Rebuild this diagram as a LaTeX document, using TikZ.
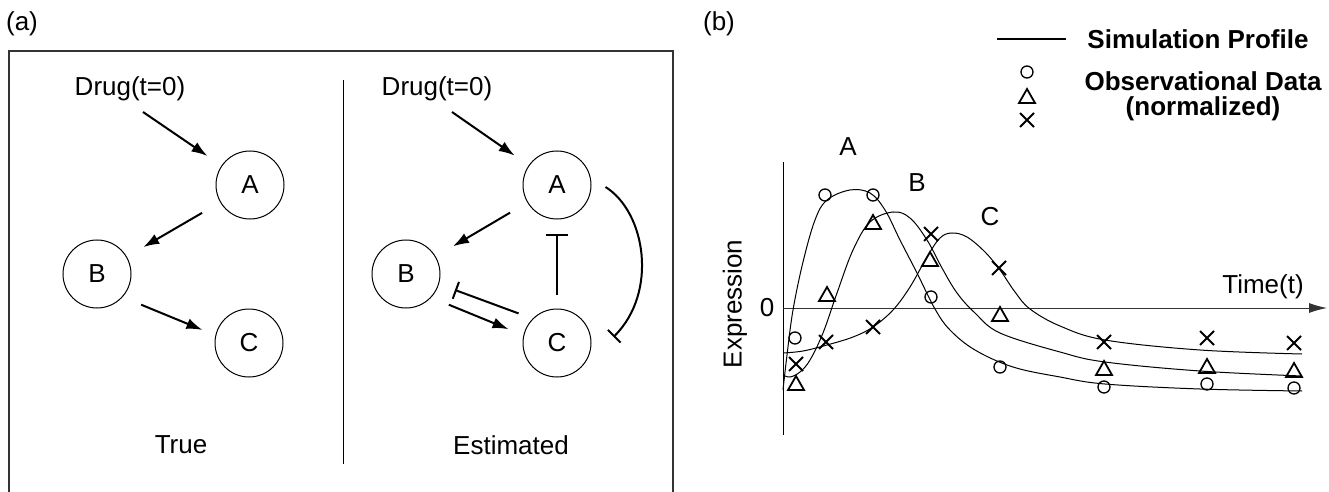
\documentclass[tikz,border=0pt]{standalone}
\usepackage{fontspec}
\setmainfont{Liberation Sans}
\usetikzlibrary{arrows.meta,calc}

\begin{document}
\begin{tikzpicture}[
    x=0.5pt, y=-0.5pt,
    font=\fontsize{13}{15}\selectfont,
    gene/.style={circle, draw, line width=0.5pt, minimum size=34pt, inner sep=0pt},
    act/.style={-{Latex[length=8pt,width=5.5pt]}, line width=1pt},
    inh/.style={-{Bar[width=9pt,line width=1pt]}, line width=1pt},
    frame/.style={line width=0.7pt, black!80},
    profile/.style={line width=0.5pt, smooth, tension=0.6},
    datamark/.style={line width=0.9pt},
    legtext/.style={font=\fontsize{13}{12.5}\selectfont\bfseries}
]

\useasboundingbox (0,0) rectangle (1329,492);

% -------------------------------------------------
% (a) true and estimated networks
% -------------------------------------------------

\node (lbla) at (22,24) {(a)};

\draw[frame] (9,492) -- (9,51) -- (673,51) -- (673,492);
\draw[line width=0.5pt] (343,80) -- (343,464);

% True network
\node (drugL) at (130,89) {Drug(t=0)};
\node[gene] (gAL) at (250,185) {A};
\node[gene] (gBL) at (97,274) {B};
\node[gene] (gCL) at (249,343) {C};
\node (trueL) at (181,445) {True};

\draw[act, shorten >=8.5pt] ($(drugL)+(13,23)$) -- (gAL);
\draw[act, shorten <=10.5pt, shorten >=9.5pt] (gAL) -- (gBL);
\draw[act, shorten <=10pt, shorten >=7pt] (gBL.-42) -- (gCL.167);

% Estimated network
\node (drugR) at (437,89) {Drug(t=0)};
\node[gene] (gAR) at (557,185) {A};
\node[gene] (gBR) at (406,274) {B};
\node[gene] (gCR) at (557,343) {C};
\node (estR) at (511,445) {Estimated};

\draw[act, shorten >=8.5pt] ($(drugR)+(15,23)$) -- (gAR);
\draw[act, shorten <=10pt, shorten >=10pt] (gAR) -- (gBR);
\draw[act, shorten <=9.5pt, shorten >=8pt] (gBR.-43) -- (gCR.167);
\draw[inh, shorten <=7.5pt, shorten >=8.5pt] (gCR.135) -- (gBR.-17);
\draw[inh, -{Bar[width=11pt,line width=1pt]}, shorten <=7pt, shorten >=7pt]
  (gCR) -- (gAR);
\draw[inh]
  ($(gAR.east)+(14,2)$)
  .. controls +(40,25) and +(45,-45) ..
  ($(gCR.east)+(22,-6)$);

% -------------------------------------------------
% (b) simulated profiles and data
% -------------------------------------------------

\node (lblb) at (719,24) {(b)};

% Legend
\draw[line width=0.7pt] (997,39) -- (1066,39);
\node[legtext] (legSim) at (1198,39) {Simulation Profile};
\draw[line width=0.65pt] (1027,72) circle[radius=6];
\draw[datamark] (1019,103) -- (1035,103) -- (1027,89) -- cycle;
\draw[datamark] (1020,113) -- (1034,127) (1020,127) -- (1034,113);
\node[legtext, align=center] (legObs) at (1203,96)
  {Observational Data\\(normalized)};

% Axes
\draw[line width=0.5pt] (783,162) -- (783,435);
\draw[line width=0.5pt, black!80, -{Latex[length=9pt,width=5pt]}]
  (783,308) -- (1327,308);
\node (zero) at (767,308) {0};
\node[rotate=90] (ylab) at (735,304) {Expression};
\node (xlab) at (1263,287) {Time(t)};

\node (labA) at (848,147) {A};
\node (labB) at (917,183) {B};
\node (labC) at (990,217) {C};

% Profile A
\draw[profile] plot coordinates {
  (783,390) (787,355) (793,310) (803,262) (815,220) (827,200) (850,190)
  (870,193) (885,210) (900,240) (917,273) (935,309) (950,330) (975,350)
  (1013,367) (1060,377) (1105,384) (1200,389) (1302,391)};

% Profile B
\draw[profile] plot coordinates {
  (783,375) (790,377) (800,372) (810,360) (823,333) (837,293) (853,250)
  (870,222) (893,212) (910,218) (927,240) (942,268) (957,293) (975,313)
  (1000,333) (1060,352) (1105,362) (1200,371) (1302,376)};

% Profile C
\draw[profile] plot coordinates {
  (783,353) (803,351) (827,345) (853,337) (873,327) (893,310) (910,287)
  (927,257) (940,238) (952,233) (967,237) (985,252) (1000,270) (1015,292)
  (1030,309) (1060,326) (1105,340) (1200,350) (1302,354)};

% Data points
\foreach \px/\py in {825/195, 873/195, 795/338, 931/297, 1000/367,
                     1104/387, 1207/384, 1294/388}
  \draw[line width=0.65pt] (\px,\py) circle[radius=6];

\foreach \px/\py in {796/384, 827/295, 873/223, 930/260, 1000/315,
                     1104/369, 1207/367, 1294/371}
  \draw[datamark] (\px,\py) ++(-8,6) -- ++(16,0) -- ++(-8,-14) -- cycle;

\foreach \px/\py in {796/364, 826/342, 873/327, 931/234, 999/268,
                     1104/342, 1207/338, 1294/343}
  \draw[datamark] (\px,\py) ++(-7,-7) -- ++(14,14)
                  (\px,\py) ++(-7,7) -- ++(14,-14);

\end{tikzpicture}
\end{document}
